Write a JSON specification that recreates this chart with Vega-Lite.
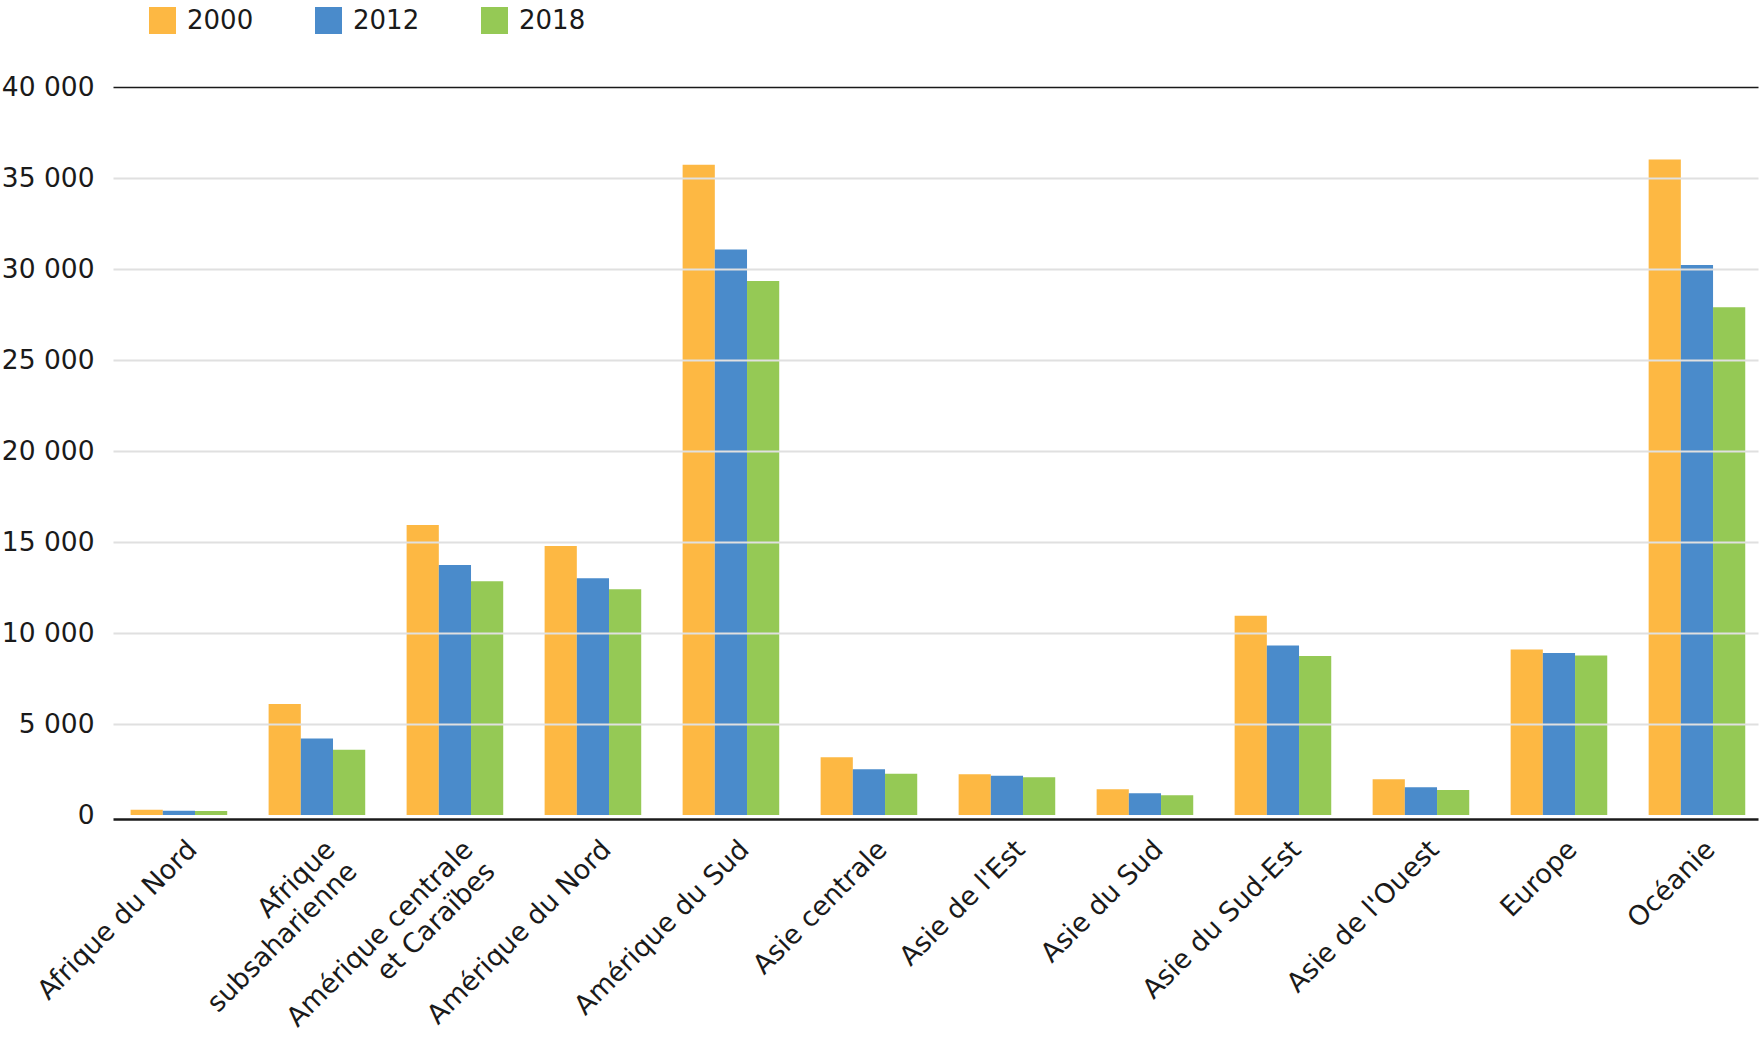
{
  "$schema": "https://vega.github.io/schema/vega-lite/v6.json",
  "width": 1645,
  "height": 728,
  "autosize": {"type": "none"},
  "padding": {"left": 113, "top": 87, "right": 2, "bottom": 225},
  "background": "white",
  "config": {
    "locale": {"number": {"decimal": ",", "thousands": " ", "grouping": [3], "currency": ["", " €"]}},
    "view": {"stroke": null},
    "font": "DejaVu Sans"
  },
  "data": {
    "values": [
      {"region": "Afrique du Nord", "year": "2000", "value": 290},
      {"region": "Afrique du Nord", "year": "2012", "value": 230},
      {"region": "Afrique du Nord", "year": "2018", "value": 220},
      {"region": "Afrique subsaharienne", "year": "2000", "value": 6100},
      {"region": "Afrique subsaharienne", "year": "2012", "value": 4210},
      {"region": "Afrique subsaharienne", "year": "2018", "value": 3590},
      {"region": "Amérique centrale et Caraïbes", "year": "2000", "value": 15940},
      {"region": "Amérique centrale et Caraïbes", "year": "2012", "value": 13730},
      {"region": "Amérique centrale et Caraïbes", "year": "2018", "value": 12850},
      {"region": "Amérique du Nord", "year": "2000", "value": 14780},
      {"region": "Amérique du Nord", "year": "2012", "value": 13010},
      {"region": "Amérique du Nord", "year": "2018", "value": 12410},
      {"region": "Amérique du Sud", "year": "2000", "value": 35730},
      {"region": "Amérique du Sud", "year": "2012", "value": 31070},
      {"region": "Amérique du Sud", "year": "2018", "value": 29340},
      {"region": "Asie centrale", "year": "2000", "value": 3170},
      {"region": "Asie centrale", "year": "2012", "value": 2510},
      {"region": "Asie centrale", "year": "2018", "value": 2260},
      {"region": "Asie de l'Est", "year": "2000", "value": 2240},
      {"region": "Asie de l'Est", "year": "2012", "value": 2150},
      {"region": "Asie de l'Est", "year": "2018", "value": 2070},
      {"region": "Asie du Sud", "year": "2000", "value": 1410},
      {"region": "Asie du Sud", "year": "2012", "value": 1190},
      {"region": "Asie du Sud", "year": "2018", "value": 1080},
      {"region": "Asie du Sud-Est", "year": "2000", "value": 10950},
      {"region": "Asie du Sud-Est", "year": "2012", "value": 9320},
      {"region": "Asie du Sud-Est", "year": "2018", "value": 8740},
      {"region": "Asie de l'Ouest", "year": "2000", "value": 1960},
      {"region": "Asie de l'Ouest", "year": "2012", "value": 1520},
      {"region": "Asie de l'Ouest", "year": "2018", "value": 1370},
      {"region": "Europe", "year": "2000", "value": 9100},
      {"region": "Europe", "year": "2012", "value": 8900},
      {"region": "Europe", "year": "2018", "value": 8770},
      {"region": "Océanie", "year": "2000", "value": 36010},
      {"region": "Océanie", "year": "2012", "value": 30220},
      {"region": "Océanie", "year": "2018", "value": 27900}
    ]
  },
  "mark": {"type": "bar"},
  "encoding": {
    "x": {
      "field": "region",
      "type": "nominal",
      "sort": null,
      "scale": {"paddingInner": 0.3, "paddingOuter": 0.11, "align": 0.58},
      "axis": {
        "title": null,
        "domainColor": "#1a1a1a",
        "domainWidth": 2.5,
        "offset": 4,
        "ticks": false,
        "grid": false,
        "labelAngle": -45,
        "labelAlign": "right",
        "labelBaseline": "middle",
        "labelFontSize": 27,
        "labelColor": "#1a1a1a",
        "labelPadding": 26,
        "labelOffset": 14,
        "labelLimit": 500,
        "labelLineHeight": 31,
        "labelExpr": "datum.value === 'Afrique subsaharienne' ? ['Afrique', 'subsaharienne'] : datum.value === 'Amérique centrale et Caraïbes' ? ['Amérique centrale', 'et Caraïbes'] : datum.value"
      }
    },
    "xOffset": {"field": "year", "type": "nominal", "sort": ["2000", "2012", "2018"]},
    "y": {
      "field": "value",
      "type": "quantitative",
      "scale": {"domain": [0, 40000], "nice": false},
      "axis": {
        "title": null,
        "domain": false,
        "ticks": false,
        "values": [0, 5000, 10000, 15000, 20000, 25000, 30000, 35000, 40000],
        "format": ",d",
        "labelFontSize": 26.5,
        "labelColor": "#1a1a1a",
        "labelPadding": 19,
        "zindex": 1,
        "grid": true,
        "gridColor": {"condition": {"test": "datum.value === 40000", "value": "#1a1a1a"}, "value": "#e0e0e0"},
        "gridWidth": {"condition": {"test": "datum.value === 40000", "value": 1.6}, "value": 2},
        "gridOpacity": {"condition": {"test": "datum.value === 0", "value": 0}, "value": 1}
      }
    },
    "color": {
      "field": "year",
      "type": "nominal",
      "scale": {"domain": ["2000", "2012", "2018"], "range": ["#FDB843", "#4A8BCB", "#95C955"]},
      "legend": {
        "title": null,
        "orient": "none",
        "legendX": 36,
        "legendY": -80,
        "direction": "horizontal",
        "padding": 0,
        "symbolType": "square",
        "symbolSize": 729,
        "symbolStrokeWidth": 0,
        "symbolOpacity": 1,
        "labelFontSize": 26,
        "labelColor": "#1a1a1a",
        "labelOffset": 11,
        "columnPadding": 61,
        "gridAlign": "all"
      }
    }
  }
}
